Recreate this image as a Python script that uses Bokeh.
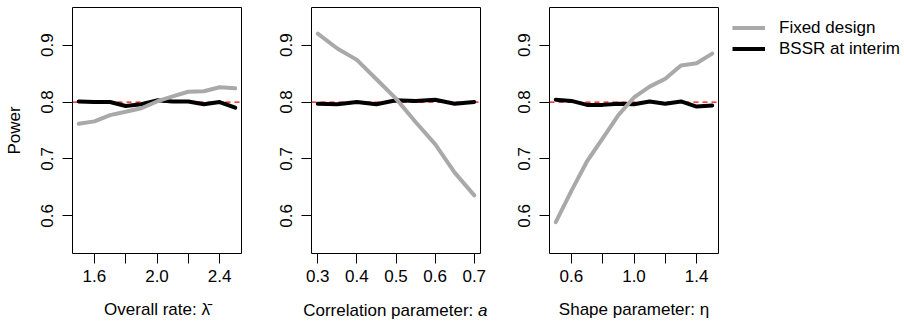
from bokeh.plotting import figure
from bokeh.layouts import row
from bokeh.models import Range1d, FixedTicker, PrintfTickFormatter, Span, Legend, LegendItem, Label
from bokeh.embed import file_html
from bokeh.resources import INLINE

# ---- data ----
rate_x = [1.5, 1.6, 1.7, 1.8, 1.9, 2.0, 2.1, 2.2, 2.3, 2.4, 2.5]
rate_fixed = [0.762, 0.766, 0.777, 0.783, 0.789, 0.801, 0.810, 0.818, 0.819, 0.826, 0.824]
rate_bssr = [0.801, 0.800, 0.800, 0.793, 0.796, 0.803, 0.801, 0.801, 0.796, 0.800, 0.790]

corr_x = [0.3, 0.35, 0.4, 0.45, 0.5, 0.55, 0.6, 0.65, 0.7]
corr_fixed = [0.920, 0.894, 0.874, 0.840, 0.806, 0.765, 0.726, 0.676, 0.636]
corr_bssr = [0.797, 0.796, 0.800, 0.796, 0.803, 0.802, 0.804, 0.797, 0.800]

shape_x = [0.5, 0.6, 0.7, 0.8, 0.9, 1.0, 1.1, 1.2, 1.3, 1.4, 1.5]
shape_fixed = [0.589, 0.644, 0.696, 0.736, 0.777, 0.808, 0.827, 0.841, 0.864, 0.868, 0.885]
shape_bssr = [0.804, 0.802, 0.795, 0.795, 0.797, 0.796, 0.801, 0.797, 0.801, 0.792, 0.794]

target_power = 0.8
y_ticks = [0.6, 0.7, 0.8, 0.9]
rate_ticks, rate_minor = [1.6, 2.0, 2.4], [1.8, 2.2]
corr_ticks, corr_minor = [0.3, 0.4, 0.5, 0.6, 0.7], []
shape_ticks, shape_minor = [0.6, 1.0, 1.4], [0.8, 1.2]

series_names = ["Fixed design", "BSSR at interim"]
ylabel = "Power"

FONT = "Liberation Sans"
FS = "17px"
GRAY = "#a9a9a9"
H = 322
TOP = 7
FRAME_H = 246
BOTTOM = H - FRAME_H - TOP
Y_LO, Y_HI = 0.534, 0.966


def make_panel(xs, fixed, bssr, xr, ticks, minor, xlabel, left, right, width, show_ylabel):
    p = figure(width=width, height=H, output_backend="svg", toolbar_location=None,
               x_range=Range1d(*xr), y_range=Range1d(Y_LO, Y_HI),
               min_border_left=left, min_border_right=right,
               min_border_top=TOP, min_border_bottom=BOTTOM)
    p.background_fill_color = "white"
    p.border_fill_color = "white"
    p.outline_line_color = "black"
    p.outline_line_alpha = 1.0
    p.outline_line_width = 1
    p.xgrid.grid_line_color = None
    p.ygrid.grid_line_color = None

    p.add_layout(Span(location=target_power, dimension="width", line_color="red",
                      line_width=1.2, line_dash="5 4", level="underlay"))
    p.line(xs, bssr, line_color="black", line_width=4, line_join="round", line_cap="round")
    p.line(xs, fixed, line_color=GRAY, line_width=4, line_join="round", line_cap="round")

    xa = p.xaxis[0]
    xa.ticker = FixedTicker(ticks=ticks, minor_ticks=minor)
    xa.formatter = PrintfTickFormatter(format="%.1f")
    ya = p.yaxis[0]
    ya.ticker = FixedTicker(ticks=y_ticks)
    ya.formatter = PrintfTickFormatter(format="%.1f")
    ya.major_label_orientation = "vertical"
    for ax in (xa, ya):
        ax.axis_line_color = None
        ax.major_tick_out = 10
        ax.major_tick_in = 0
        ax.minor_tick_out = 10
        ax.minor_tick_in = 0
        ax.major_tick_line_color = "black"
        ax.minor_tick_line_color = "black"
        ax.major_label_text_font = FONT
        ax.major_label_text_font_size = FS
        ax.major_label_text_color = "black"
        ax.axis_label_text_font = FONT
        ax.axis_label_text_font_size = FS
        ax.axis_label_text_font_style = "normal"
        ax.axis_label_text_color = "black"
    xa.major_label_standoff = 6
    xa.axis_label_standoff = 15
    ya.major_label_standoff = 9
    ya.axis_label_standoff = 15
    if xlabel is not None:
        xa.axis_label = xlabel
    if show_ylabel:
        ya.axis_label = ylabel
    return p


p1 = make_panel(rate_x, rate_fixed, rate_bssr, (1.46, 2.54), rate_ticks, rate_minor,
                "Overall rate: \u03bb\u0304", 72, 4, 245, True)
p2 = make_panel(corr_x, corr_fixed, corr_bssr, (0.284, 0.716), corr_ticks, corr_minor,
                None, 66, 24, 259, False)
# split label so that the parameter symbol is italic; both pieces sit in side panels
# (not clipped to the frame) and are positioned through the plot's own scales
label_y = Y_LO - 57 * (Y_HI - Y_LO) / FRAME_H
p2.add_layout(Label(x=0.5, y=label_y, x_units="data", y_units="data", x_offset=82,
                    text="Correlation parameter: ", text_align="right", text_baseline="alphabetic",
                    text_font=FONT, text_font_size=FS, text_color="black"), "below")
p2.add_layout(Label(x=0.5, y=label_y, x_units="data", y_units="data", x_offset=82,
                    text="a", text_align="left", text_baseline="alphabetic",
                    text_font=FONT, text_font_size=FS, text_font_style="italic", text_color="black"), "left")
p3 = make_panel(shape_x, shape_fixed, shape_bssr, (0.46, 1.54), shape_ticks, shape_minor,
                "Shape parameter: \u03b7", 45, 2, 216, False)

# legend panel (its lines use the real data but lie outside its visible range)
W4 = 903 - 245 - 259 - 216
p4 = figure(width=W4, height=H, output_backend="svg", toolbar_location=None,
            x_range=Range1d(-3, -2), y_range=Range1d(-3, -2), x_axis_type=None, y_axis_type=None,
            min_border_left=2, min_border_right=0, min_border_top=TOP, min_border_bottom=BOTTOM)
p4.outline_line_color = None
p4.xgrid.grid_line_color = None
p4.ygrid.grid_line_color = None
r_fixed = p4.line(rate_x, rate_fixed, line_color=GRAY, line_width=4)
r_bssr = p4.line(rate_x, rate_bssr, line_color="black", line_width=4)
leg = Legend(items=[LegendItem(label=series_names[0], renderers=[r_fixed]),
                    LegendItem(label=series_names[1], renderers=[r_bssr])],
             location="top_left", margin=10, padding=0, spacing=0,
             glyph_width=33, glyph_height=21, label_height=21, label_standoff=14,
             label_text_font=FONT, label_text_font_size=FS, label_text_color="black",
             border_line_color=None, background_fill_alpha=0)
p4.add_layout(leg)

layout = row(p1, p2, p3, p4)
open("out.html", "w").write(file_html(layout, INLINE))
